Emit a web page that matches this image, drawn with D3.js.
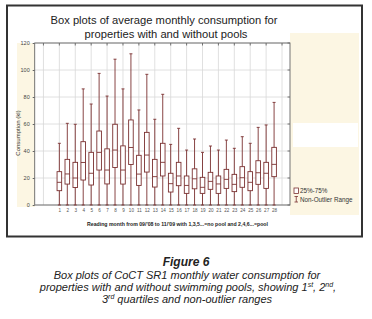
<!DOCTYPE html>
<html>
<head>
<meta charset="utf-8">
<script src="https://cdn.jsdelivr.net/npm/d3@7"></script>
<style>
  body { margin: 0; background: #fff; }
  svg { display: block; font-family: "Liberation Sans", Arial, sans-serif; }
</style>
</head>
<body>
<svg id="chart" width="372" height="319"></svg>
<script>
// reading month 1..28 (odd = no pool, even = pool)
const months = d3.range(1, 29)
const whiskerHigh = [45.7, 60.5, 59.8, 86, 74.8, 97.5, 80.7, 108, 86, 112, 70.4, 96.8, 63.5, 82, 44.9, 56.8, 40.7, 48.9, 39, 43.7, 40.7, 48.1, 42, 50.6, 45.7, 57.5, 59.3, 76]
const q3 = [24.7, 33.8, 31.6, 46.9, 39, 54.8, 41.6, 59.8, 43.8, 63, 36.8, 53.8, 33.8, 45.7, 23.5, 31.6, 21.5, 26.8, 20.5, 24.2, 21.5, 26.4, 22.7, 28.4, 24.7, 32.8, 31.6, 42.7]
const median = [16.8, 23, 20, 31.5, 23.5, 39, 25.9, 40.7, 25.9, 42.6, 22.9, 37, 21, 31.6, 15.8, 21.5, 14.5, 19.4, 13.1, 17.5, 15.6, 19, 15.3, 20.2, 16.8, 23.9, 23.5, 30.1]
const q1 = [10.6, 15.5, 13, 18.5, 14.8, 25.9, 15.6, 27.8, 15.5, 30, 14.5, 24.4, 13.3, 21.5, 9.6, 14.3, 8.6, 12, 8.6, 11.6, 8.6, 12.3, 9.9, 13.1, 10.6, 15.3, 12.3, 21]
const whiskerLow = [0, 0, 0, 0, 0, 0, 0, 0, 0, 0, 0, 0, 0, 0, 0, 0, 0, 0, 0, 0, 0, 0, 0, 0, 0, 0, 0, 0]
const yTicks = [0, 20, 40, 60, 80, 100, 120]
const xGrid = d3.range(-1, 30, 2)

const svg = d3.select("#chart")
const boxColor = "#7a3030"

// panel backgrounds
svg.append("rect").attr("x", 290).attr("y", 33).attr("width", 69).attr("height", 182).attr("fill", "#fcf6e3")
svg.append("rect").attr("x", 293).attr("y", 123).attr("width", 65).attr("height", 24).attr("fill", "#fff")
svg.append("rect").attr("x", 17).attr("y", 43).attr("width", 18).attr("height", 164).attr("fill", "#fcf6e3")

// outer frame
svg.append("rect").attr("x", 7).attr("y", 5.5).attr("width", 355).attr("height", 231)
  .attr("fill", "none").attr("stroke", "#333").attr("stroke-width", 2)

// title
svg.append("text").attr("x", 164).attr("y", 24).attr("text-anchor", "middle")
  .attr("font-size", 11.2).attr("fill", "#222").text("Box plots of average monthly consumption for")
svg.append("text").attr("x", 166).attr("y", 37.5).attr("text-anchor", "middle")
  .attr("font-size", 11.2).attr("fill", "#222").text("properties with and without pools")

const m = {left: 34.7, right: 290, top: 43, bottom: 205}
const x = d3.scaleLinear().domain([-2.1, 30]).range([m.left, m.right])
const y = d3.scaleLinear().domain([0, 120]).range([m.bottom, m.top])

const g = svg.append("g")

g.append("rect").attr("x", m.left).attr("y", m.top).attr("width", m.right - m.left)
  .attr("height", m.bottom - m.top).attr("fill", "#fff")

// grid
g.append("g").selectAll("line").data(yTicks).join("line")
  .attr("x1", m.left).attr("x2", m.right).attr("y1", (d) => y(d)).attr("y2", (d) => y(d))
  .attr("stroke", "#d8d8d8").attr("stroke-width", 0.8)
g.append("g").selectAll("line").data(xGrid).join("line")
  .attr("x1", (d) => x(d)).attr("x2", (d) => x(d)).attr("y1", m.top).attr("y2", m.bottom)
  .attr("stroke", "#d8d8d8").attr("stroke-width", 0.8)

// inner ticks top and right
g.append("g").selectAll("line").data(xGrid).join("line")
  .attr("x1", (d) => x(d)).attr("x2", (d) => x(d)).attr("y1", m.top).attr("y2", m.top + 2.5)
  .attr("stroke", "#555").attr("stroke-width", 0.8)
g.append("g").selectAll("line").data(yTicks).join("line")
  .attr("x1", m.right - 2.5).attr("x2", m.right).attr("y1", (d) => y(d)).attr("y2", (d) => y(d))
  .attr("stroke", "#555").attr("stroke-width", 0.8)

g.append("rect").attr("x", m.left).attr("y", m.top).attr("width", m.right - m.left)
  .attr("height", m.bottom - m.top).attr("fill", "none").attr("stroke", "#666").attr("stroke-width", 0.9)

// y axis
g.append("g")
  .attr("transform", `translate(${m.left},0)`)
  .call(d3.axisLeft(y).tickValues(yTicks).tickSize(2).tickPadding(3))
  .call((gg) => gg.select(".domain").remove())
  .call((gg) => gg.selectAll("line").attr("stroke", "#666"))
  .call((gg) => gg.selectAll("text").attr("font-size", 5.5).attr("fill", "#444").attr("font-family", null))

// x axis labels
g.append("g")
  .attr("transform", `translate(0,${m.bottom})`)
  .call(d3.axisBottom(x).tickValues(months).tickSize(0).tickPadding(4))
  .call((gg) => gg.select(".domain").remove())
  .call((gg) => gg.selectAll("text").attr("font-size", 4.6).attr("fill", "#555").attr("font-family", null))

// box plots
const boxes = months.map((mo, i) => ({
  mo, lo: whiskerLow[i], hi: whiskerHigh[i], q1: q1[i], med: median[i], q3: q3[i],
}))
const bw = 4.6
const cw = 3
const bg = g.append("g").attr("stroke", boxColor).attr("stroke-width", 0.9).attr("fill", "#fff")
bg.selectAll("line.whisk").data(boxes).join("line").attr("class", "whisk")
  .attr("x1", (d) => x(d.mo)).attr("x2", (d) => x(d.mo))
  .attr("y1", (d) => y(d.lo)).attr("y2", (d) => y(d.hi))
bg.selectAll("line.cap").data(boxes).join("line").attr("class", "cap")
  .attr("x1", (d) => x(d.mo) - cw / 2).attr("x2", (d) => x(d.mo) + cw / 2)
  .attr("y1", (d) => y(d.hi)).attr("y2", (d) => y(d.hi))
bg.selectAll("line.capl").data(boxes).join("line").attr("class", "capl")
  .attr("x1", (d) => x(d.mo) - cw / 2).attr("x2", (d) => x(d.mo) + cw / 2)
  .attr("y1", (d) => y(d.lo)).attr("y2", (d) => y(d.lo))
bg.selectAll("rect").data(boxes).join("rect")
  .attr("x", (d) => x(d.mo) - bw / 2).attr("width", bw)
  .attr("y", (d) => y(d.q3)).attr("height", (d) => y(d.q1) - y(d.q3))
bg.selectAll("line.med").data(boxes).join("line").attr("class", "med")
  .attr("x1", (d) => x(d.mo) - bw / 2).attr("x2", (d) => x(d.mo) + bw / 2)
  .attr("y1", (d) => y(d.med)).attr("y2", (d) => y(d.med))

// axis titles
svg.append("text").attr("transform", "translate(19.5,133) rotate(-90)").attr("text-anchor", "middle")
  .attr("font-size", 6).attr("fill", "#333").text("Consumption (kl)")
svg.append("text").attr("x", 177.5).attr("y", 226).attr("text-anchor", "middle")
  .attr("font-size", 5.2).attr("font-weight", "bold").attr("fill", "#222")
  .text("Reading month from 09/'08 to 11/'09 with 1,3,5...=no pool and 2,4,6...=pool")

// legend
const lg = svg.append("g").attr("transform", "translate(294,188)")
lg.append("rect").attr("x", 0).attr("y", 0).attr("width", 4.5).attr("height", 5.5)
  .attr("fill", "#fff").attr("stroke", boxColor).attr("stroke-width", 0.8)
lg.append("path").attr("d", "M0.5,8.5H4M2.25,8.5V14M0.5,14H4")
  .attr("fill", "none").attr("stroke", boxColor).attr("stroke-width", 0.8)
lg.append("text").attr("x", 6).attr("y", 5).attr("font-size", 6.3).attr("fill", "#333").text("25%-75%")
lg.append("text").attr("x", 6).attr("y", 13.5).attr("font-size", 6.3).attr("fill", "#333").text("Non-Outlier Range")

// caption
const cap = svg.append("g").attr("text-anchor", "middle").attr("fill", "#222").attr("font-style", "italic")
cap.append("text").attr("x", 186).attr("y", 266).attr("font-size", 12).attr("font-weight", "bold").text("Figure 6")
cap.append("text").attr("x", 187).attr("y", 278.5).attr("font-size", 11)
  .text("Box plots of CoCT SR1 monthly water consumption for")
const l2 = cap.append("text").attr("x", 188).attr("y", 291).attr("font-size", 11)
l2.append("tspan").text("properties with and without swimming pools, showing 1")
l2.append("tspan").attr("font-size", 7).attr("dy", -4).text("st")
l2.append("tspan").attr("dy", 4).text(", 2")
l2.append("tspan").attr("font-size", 7).attr("dy", -4).text("nd")
l2.append("tspan").attr("dy", 4).text(",")
const l3 = cap.append("text").attr("x", 187).attr("y", 303).attr("font-size", 11)
l3.append("tspan").text("3")
l3.append("tspan").attr("font-size", 7).attr("dy", -4).text("rd")
l3.append("tspan").attr("dy", 4).text(" quartiles and non-outlier ranges")
</script>
</body>
</html>
